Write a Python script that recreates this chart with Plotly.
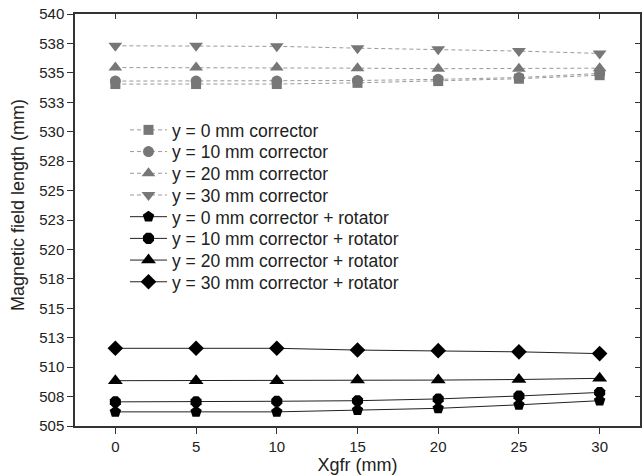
import plotly.graph_objects as go

x_vals = [0, 5, 10, 15, 20, 25, 30]

# corrector only (gray, dashed)
corr_y0 = [534.05, 534.05, 534.05, 534.15, 534.3, 534.5, 534.8]
corr_y10 = [534.3, 534.3, 534.3, 534.35, 534.45, 534.6, 534.95]
corr_y20 = [535.45, 535.45, 535.45, 535.4, 535.35, 535.35, 535.4]
corr_y30 = [537.3, 537.3, 537.25, 537.1, 537.0, 536.85, 536.65]

# corrector + rotator (black, solid)
rot_y0 = [506.2, 506.2, 506.2, 506.35, 506.5, 506.8, 507.15]
rot_y10 = [507.05, 507.05, 507.1, 507.15, 507.3, 507.55, 507.85]
rot_y20 = [508.85, 508.85, 508.85, 508.9, 508.9, 508.95, 509.05]
rot_y30 = [511.6, 511.6, 511.6, 511.45, 511.4, 511.3, 511.15]

y_tickvals = [505, 507.5, 510, 512.5, 515, 517.5, 520, 522.5, 525, 527.5, 530, 532.5, 535, 537.5, 540]
y_ticktext = ["505", "508", "510", "513", "515", "518", "520", "523", "525", "528", "530", "533", "535", "538", "540"]
x_tickvals = [0, 5, 10, 15, 20, 25, 30]

x_title = "Xgfr (mm)"
y_title = "Magnetic field length (mm)"

series = [
    ("y = 0 mm corrector", corr_y0, "square", 10, "#777777", "#999999", "dash"),
    ("y = 10 mm corrector", corr_y10, "circle", 11, "#777777", "#999999", "dash"),
    ("y = 20 mm corrector", corr_y20, "triangle-up", 12, "#777777", "#999999", "dash"),
    ("y = 30 mm corrector", corr_y30, "triangle-down", 12, "#777777", "#999999", "dash"),
    ("y = 0 mm corrector + rotator", rot_y0, "pentagon", 12, "#000000", "#222222", "solid"),
    ("y = 10 mm corrector + rotator", rot_y10, "octagon", 12, "#000000", "#222222", "solid"),
    ("y = 20 mm corrector + rotator", rot_y20, "triangle-up", 13, "#000000", "#222222", "solid"),
    ("y = 30 mm corrector + rotator", rot_y30, "diamond", 12, "#000000", "#222222", "solid"),
]

FONT = "Liberation Sans, Arial, sans-serif"
fig = go.Figure()
legend_layout = {}
# plot area: top 14 px, height 412 px; legend rows every ~21.7 px starting at 130 px
row_top_px = 130
row_gap_px = 21.7
for i, (name, ys, sym, size, mcol, lcol, dash) in enumerate(series):
    lg = "legend" if i == 0 else f"legend{i + 1}"
    fig.add_trace(go.Scatter(
        x=x_vals, y=ys, name=name, mode="lines+markers", legend=lg,
        line=dict(color=lcol, width=1, dash="4px,3px" if dash == "dash" else "solid"),
        marker=dict(symbol=sym, size=size, color=mcol, line=dict(width=0)),
    ))
    ypx = row_top_px + i * row_gap_px
    legend_layout[lg] = dict(
        x=0.0885, y=(426 - ypx) / 412, xanchor="left", yanchor="middle",
        bgcolor="rgba(0,0,0,0)", font=dict(family=FONT, size=17.5, color="#222"),
        itemwidth=37, borderwidth=0,
    )

axis_font = dict(family=FONT, size=15, color="#222")

fig.update_layout(
    width=642, height=475,
    margin=dict(l=75, r=2, t=14, b=49),
    paper_bgcolor="white", plot_bgcolor="white",
    font=dict(family=FONT, size=15, color="#222"),
    showlegend=True,
    xaxis=dict(range=[-2.5, 32.5], tickvals=x_tickvals, ticks="outside", ticklen=6,
               tickwidth=1.2, tickcolor="#333", showline=True, linecolor="#333", linewidth=1.5,
               showgrid=False, zeroline=False, tickfont=axis_font,
               title=dict(text=x_title, font=dict(size=18), standoff=3)),
    yaxis=dict(range=[505, 540], tickvals=y_tickvals, ticktext=y_ticktext, ticks="outside",
               ticklen=6, tickwidth=1.2, tickcolor="#333", showline=True, linecolor="#333",
               linewidth=1.5, showgrid=False, zeroline=False, tickfont=axis_font),
    xaxis2=dict(range=[-2.5, 32.5], tickvals=x_tickvals, ticks="inside", ticklen=5,
                tickwidth=1.2, tickcolor="#333", showline=True, linecolor="#333", linewidth=1.5,
                showgrid=False, zeroline=False, showticklabels=False, overlaying="x",
                side="top", anchor="y"),
    yaxis2=dict(range=[505, 540], tickvals=y_tickvals, ticks="inside", ticklen=5,
                tickwidth=1.2, tickcolor="#333", showline=True, linecolor="#333", linewidth=1.5,
                showgrid=False, zeroline=False, showticklabels=False, overlaying="y",
                side="right", anchor="x"),
    annotations=[dict(text=y_title, textangle=-90, xref="paper", yref="paper",
                      x=(18 - 75) / 565, y=(426 - 205) / 412, xanchor="center",
                      yanchor="middle", showarrow=False,
                      font=dict(family=FONT, size=18, color="#222"))],
    **legend_layout,
)

# invisible helper trace so the mirrored axes are drawn
fig.add_trace(go.Scatter(x=[x_vals[0]], y=[y_tickvals[0]], xaxis="x2", yaxis="y2",
                         mode="markers", marker=dict(opacity=0), showlegend=False,
                         hoverinfo="skip"))

fig.write_html("out.html")
